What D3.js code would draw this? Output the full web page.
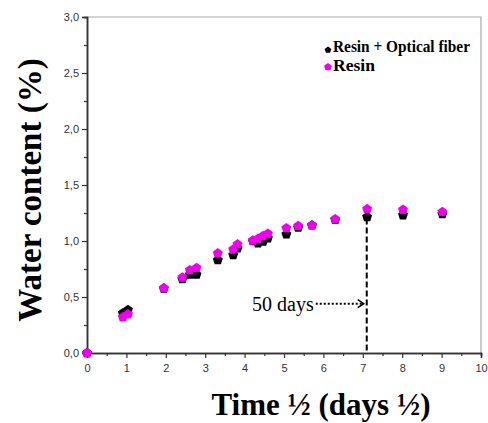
<!DOCTYPE html>
<html>
<head>
<meta charset="utf-8">
<script src="https://cdn.jsdelivr.net/npm/d3@7"></script>
<style>
  body { margin: 0; background: #fff; }
  .tick text { font-family: "Liberation Sans", Arial, sans-serif; font-size: 11px; fill: #333; }
</style>
</head>
<body>
<svg id="chart" width="488" height="423"></svg>
<script>
// sqrt(time) values, days^1/2
let timeSqrt = [0, 0.91, 1.04, 1.95, 2.42, 2.61, 2.78, 3.32, 3.71, 3.82, 4.21, 4.34, 4.47, 4.59, 5.06, 5.36, 5.71, 6.30, 7.11, 8.02, 9.02];
// water content (%) - resin + optical fiber
let resinFiber = [0, 0.355, 0.385, 0.575, 0.66, 0.70, 0.70, 0.83, 0.875, 0.935, 1.0, 0.98, 0.995, 1.025, 1.06, 1.12, 1.14, 1.19, 1.215, 1.23, 1.24];
// water content (%) - resin only
let resinOnly = [0, 0.32, 0.345, 0.58, 0.675, 0.74, 0.76, 0.89, 0.925, 0.97, 1.005, 1.02, 1.045, 1.065, 1.115, 1.135, 1.14, 1.195, 1.285, 1.28, 1.26];

let seriesNames = ["Resin + Optical fiber", "Resin"];
let seriesColors = ["#000000", "#ee00ee"];
let xTicks = [0, 1, 2, 3, 4, 5, 6, 7, 8, 9, 10];
let yTicks = [0, 0.5, 1.0, 1.5, 2.0, 2.5, 3.0];

// annotation: 50 days
let markTime = 7.1;
let markLabel = "50 days";

let svg = d3.select("#chart");
let margin = {left: 87, right: 7, top: 17, bottom: 70};
let W = 488, H = 423;

let x = d3.scaleLinear().domain([0, 10]).range([margin.left, W - margin.right]);
let y = d3.scaleLinear().domain([0, 3]).range([H - margin.bottom, margin.top]);

// frame (top/right light)
svg.append("path")
  .attr("d", "M" + x(0) + "," + y(3) + "H" + x(10) + "V" + y(0))
  .attr("fill", "none").attr("stroke", "#aaa").attr("stroke-width", 1.2);

// minor ticks
let gx = svg.append("g").attr("transform", "translate(0," + y(0) + ")");
gx.call(d3.axisBottom(x).tickValues(d3.range(0.5, 10, 1)).tickSize(3).tickFormat(""));
let gy = svg.append("g").attr("transform", "translate(" + x(0) + ",0)");
gy.call(d3.axisLeft(y).tickValues(d3.range(0.25, 3, 0.5)).tickSize(3).tickFormat(""));

// major axes
let xAxis = svg.append("g").attr("transform", "translate(0," + y(0) + ")")
  .call(d3.axisBottom(x).tickValues(xTicks).tickSize(5).tickPadding(6).tickFormat(d3.format("d")));
let yAxis = svg.append("g").attr("transform", "translate(" + x(0) + ",0)")
  .call(d3.axisLeft(y).tickValues(yTicks).tickSize(5).tickPadding(3)
    .tickFormat(function(d){ return d3.format(".1f")(d).replace(".", ","); }));

svg.selectAll(".domain").attr("stroke", "#333").attr("stroke-width", 1.5);
svg.selectAll(".tick line").attr("stroke", "#333").attr("stroke-width", 1.2);

// dashed line at 50 days
svg.append("line")
  .attr("x1", x(markTime)).attr("x2", x(markTime))
  .attr("y1", y(1.2)).attr("y2", y(0))
  .attr("stroke", "#000").attr("stroke-width", 2).attr("stroke-dasharray", "6,3");

// pentagon marker
let pentagon = {
  draw: function(ctx, size) {
    let r = Math.sqrt(size / 2.4);
    for (let i = 0; i < 5; i++) {
      let a = -Math.PI / 2 + i * 2 * Math.PI / 5;
      if (i == 0) ctx.moveTo(r * Math.cos(a), r * Math.sin(a));
      else ctx.lineTo(r * Math.cos(a), r * Math.sin(a));
    }
    ctx.closePath();
  }
};
let sym = d3.symbol().type(pentagon).size(66);

[resinFiber, resinOnly].forEach(function(vals, si) {
  svg.append("g").selectAll("path")
    .data(vals)
    .enter().append("path")
      .attr("d", sym)
      .attr("transform", function(d, i){ return "translate(" + x(timeSqrt[i]) + "," + y(d) + ")"; })
      .attr("fill", seriesColors[si]);
});

// annotation text + dotted arrow
svg.append("text")
  .attr("x", x(markTime) - 53).attr("y", y(0.44) + 7)
  .attr("text-anchor", "end")
  .style("font-family", "'Liberation Serif', 'Times New Roman', serif")
  .style("font-size", "20px")
  .text(markLabel);
svg.append("line")
  .attr("x1", x(markTime) - 51).attr("x2", x(markTime) - 4)
  .attr("y1", y(0.44)).attr("y2", y(0.44))
  .attr("stroke", "#000").attr("stroke-width", 2).attr("stroke-dasharray", "2,2");
svg.append("path")
  .attr("d", "M" + (x(markTime) - 9) + "," + (y(0.44) - 4) + "L" + (x(markTime) - 3) + "," + y(0.44) + "L" + (x(markTime) - 9) + "," + (y(0.44) + 4))
  .attr("fill", "none").attr("stroke", "#000").attr("stroke-width", 1.5);

// legend
let legend = svg.append("g");
seriesNames.forEach(function(name, i) {
  let ly = 48 + i * 19;
  legend.append("path")
    .attr("d", d3.symbol().type(pentagon).size(i == 0 ? 30 : 40))
    .attr("transform", "translate(328," + (ly + (i == 0 ? 2 : 0)) + ")")
    .attr("fill", seriesColors[i]);
  legend.append("text")
    .attr("x", 333).attr("y", ly + 4)
    .style("font-family", "'Liberation Serif', 'Times New Roman', serif")
    .style("font-weight", "bold").style("font-size", "17px")
    .attr("textLength", i == 0 ? 137 : 42).attr("lengthAdjust", "spacingAndGlyphs")
    .text(name);
});

// axis titles
svg.append("text")
  .attr("x", 321).attr("y", 415)
  .attr("text-anchor", "middle")
  .style("font-family", "'Liberation Serif', 'Times New Roman', serif")
  .style("font-weight", "bold").style("font-size", "31px")
  .text("Time ½ (days ½)");
svg.append("text")
  .attr("transform", "translate(41,190) rotate(-90)")
  .attr("text-anchor", "middle")
  .style("font-family", "'Liberation Serif', 'Times New Roman', serif")
  .style("font-weight", "bold").style("font-size", "33px")
  .text("Water content (%)");
</script>
</body>
</html>
